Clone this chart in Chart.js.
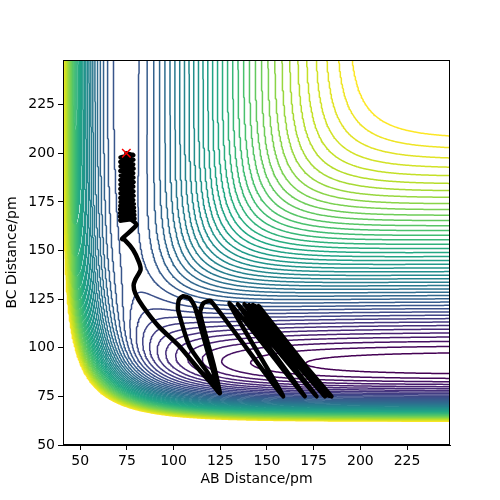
<!DOCTYPE html>
<html>
<head>
<meta charset="utf-8">
<script src="https://cdn.jsdelivr.net/npm/chart.js@4.4.0/dist/chart.umd.min.js"></script>
<style>
  html, body { margin: 0; padding: 0; background: #fff; }
</style>
</head>
<body>
<canvas id="pes" width="500" height="500"></canvas>
<script>
// axes
const xRange = [40.8, 248];
const yRange = [50, 248];
const xTicks = [50, 75, 100, 125, 150, 175, 200, 225];
const yTicks = [50, 75, 100, 125, 150, 175, 200, 225];

// LEPS surface, kJ/mol and pm (A-B = H-H, B-C = H-F, A-C = H-F)
const morseHH = { D: 458, re: 74.1, beta: 0.01942, k: 0.106 };
const morseHF = { D: 591, re: 91.7, beta: 0.02219, k: 0.167 };

// contour levels: top level and spacing
const levelTop = -86;
const levelStep = 11;

// trajectory
const startAB = [74.7];
const startBC = [200];

const coilAB = [74.7, 78.4, 71.6, 78.5, 71.5, 78.4, 71.6, 78.6, 71.5, 78.4, 71.7, 78.5, 71.5, 78.6, 71.6, 78.4,
  71.5, 78.5, 71.6, 78.6, 71.5, 78.4, 71.6, 78.7, 71.5, 78.8, 71.4, 78.9, 71.4, 79.0, 71.3, 79.1, 71.6];
const coilBC = [200, 199, 197.9, 196.7, 195.6, 194.4, 193.3, 192.1, 191, 189.8, 188.6, 187.5, 186.3, 185.2, 184, 182.9,
  181.7, 180.5, 179.4, 178.2, 177.1, 176, 175, 174, 173, 172.1, 171.2, 170.2, 169.3, 168.4, 167.5, 166.5, 165.5];

const pathAB = [71.6, 76.5, 80.1, 72.4, 73.8, 78.3, 81.5, 82.3, 79.5, 78.6, 79.5, 83.6, 92, 103.3, 113, 119.5, 124.7,
  118.5, 108.6, 102.4, 102.8, 105, 108.6, 111.3, 115.6, 120, 124.3, 124.8, 121.8, 117.3, 114.2, 116, 120,
  158.6, 130, 170.2, 134.5, 176.5, 138, 180.9, 140.6, 184.5, 142.5, 183.5, 144, 182, 145.5, 183, 143.5, 184];
const pathBC = [165.5, 166.3, 163.2, 156, 155.5, 150.4, 144, 140, 135, 132, 128, 121.2, 111, 100.6, 89.5, 82.5, 76.6,
  86.9, 100.6, 119.5, 124.6, 126.5, 125.5, 121.2, 107, 92, 78, 76.8, 90, 106, 118, 123, 124,
  75, 123, 75, 122.5, 75, 122.5, 75, 122, 75, 122, 75.5, 121.5, 75.5, 121.5, 75.3, 121.5, 75.3];

const viridisStops = ['#440154', '#482475', '#414487', '#355f8d', '#2a788e', '#21918c',
  '#22a884', '#44bf70', '#7ad151', '#bddf26', '#fde725'];

function hexToRgb(h) {
  return [parseInt(h.slice(1, 3), 16), parseInt(h.slice(3, 5), 16), parseInt(h.slice(5, 7), 16)];
}
function viridis(t) {
  const n = viridisStops.length - 1;
  const f = Math.min(Math.max(t, 0), 1) * n;
  const i = Math.min(Math.floor(f), n - 1);
  const u = f - i;
  const a = hexToRgb(viridisStops[i]), b = hexToRgb(viridisStops[i + 1]);
  return 'rgb(' + a.map((v, k) => Math.round(v + (b[k] - v) * u)).join(',') + ')';
}

function pairTerms(p, r) {
  const e1 = Math.exp(-p.beta * (r - p.re));
  const e2 = e1 * e1;
  const Q = p.D / 4 * ((3 + p.k) * e2 - (2 + 6 * p.k) * e1) / (1 + p.k);
  const J = p.D / 4 * ((1 + 3 * p.k) * e2 - (6 + 2 * p.k) * e1) / (1 + p.k);
  return [Q, J];
}
function leps(rab, rbc) {
  const [qa, ja] = pairTerms(morseHH, rab);
  const [qb, jb] = pairTerms(morseHF, rbc);
  const [qc, jc] = pairTerms(morseHF, rab + rbc);
  return qa + qb + qc - Math.sqrt(0.5 * ((ja - jb) ** 2 + (jb - jc) ** 2 + (jc - ja) ** 2));
}

// grid
const nx = 300, ny = 290;
const xs = [], ys = [];
for (let i = 0; i < nx; i++) xs.push(xRange[0] + (xRange[1] - xRange[0]) * i / (nx - 1));
for (let j = 0; j < ny; j++) ys.push(yRange[0] + (yRange[1] - yRange[0]) * j / (ny - 1));
const Z = new Float64Array(nx * ny);
let zmin = Infinity;
for (let j = 0; j < ny; j++) {
  for (let i = 0; i < nx; i++) {
    const v = leps(xs[i], ys[j]);
    Z[j * nx + i] = v;
    if (v < zmin) zmin = v;
  }
}

// marching squares, segments chained into polylines
function contourLevel(L) {
  const segK = [], segP = [];
  const byKey = new Map();
  const dx = xs[1] - xs[0], dy = ys[1] - ys[0];
  for (let j = 0; j < ny - 1; j++) {
    for (let i = 0; i < nx - 1; i++) {
      const a = Z[j * nx + i], b = Z[j * nx + i + 1], c = Z[(j + 1) * nx + i + 1], d = Z[(j + 1) * nx + i];
      const code = (a > L ? 1 : 0) | (b > L ? 2 : 0) | (c > L ? 4 : 0) | (d > L ? 8 : 0);
      if (code === 0 || code === 15) continue;
      const edge = e => {
        if (e === 0) return [(j * nx + i) * 2, { x: xs[i] + (L - a) / (b - a) * dx, y: ys[j] }];
        if (e === 1) return [(j * nx + i + 1) * 2 + 1, { x: xs[i + 1], y: ys[j] + (L - b) / (c - b) * dy }];
        if (e === 2) return [((j + 1) * nx + i) * 2, { x: xs[i] + (L - d) / (c - d) * dx, y: ys[j + 1] }];
        return [(j * nx + i) * 2 + 1, { x: xs[i], y: ys[j] + (L - a) / (d - a) * dy }];
      };
      const add = (e1, e2) => {
        const [k1, p1] = edge(e1), [k2, p2] = edge(e2);
        const s = segK.length / 2;
        segK.push(k1, k2); segP.push(p1, p2);
        if (!byKey.has(k1)) byKey.set(k1, []);
        if (!byKey.has(k2)) byKey.set(k2, []);
        byKey.get(k1).push(s); byKey.get(k2).push(s);
      };
      const cross = [];
      if ((a > L) !== (b > L)) cross.push(0);
      if ((b > L) !== (c > L)) cross.push(1);
      if ((d > L) !== (c > L)) cross.push(2);
      if ((a > L) !== (d > L)) cross.push(3);
      if (cross.length === 2) { add(cross[0], cross[1]); continue; }
      const m = (a + b + c + d) / 4;
      if (code === 5) { if (m > L) { add(0, 1); add(3, 2); } else { add(3, 0); add(1, 2); } }
      else { if (m > L) { add(3, 0); add(1, 2); } else { add(0, 1); add(3, 2); } }
    }
  }
  const nSeg = segK.length / 2;
  const used = new Uint8Array(nSeg);
  const out = [];
  const walk = (key, list) => {
    for (;;) {
      const cand = byKey.get(key);
      let next = -1;
      for (const t of cand) if (!used[t]) { next = t; break; }
      if (next < 0) return;
      used[next] = 1;
      if (segK[2 * next] === key) { list.push(segP[2 * next + 1]); key = segK[2 * next + 1]; }
      else { list.push(segP[2 * next]); key = segK[2 * next]; }
    }
  };
  for (let s = 0; s < nSeg; s++) {
    if (used[s]) continue;
    used[s] = 1;
    const fwd = [segP[2 * s], segP[2 * s + 1]];
    walk(segK[2 * s + 1], fwd);
    const back = [];
    walk(segK[2 * s], back);
    const line = back.reverse().concat(fwd);
    if (out.length) out.push({ x: NaN, y: NaN });
    for (const p of line) out.push(p);
  }
  return out;
}

const levels = [];
for (let v = levelTop; v > zmin; v -= levelStep) levels.unshift(v);

const contourSets = levels.map((L, idx) => ({
  data: contourLevel(L),
  showLine: true,
  borderColor: viridis(idx / (levels.length - 1)),
  borderWidth: 1.5,
  pointRadius: 0,
  borderCapStyle: 'round',
  borderJoinStyle: 'round'
}));

const toPts = (ax, bx) => ax.map((v, i) => ({ x: v, y: bx[i] }));

const boxPlugin = {
  id: 'box',
  afterDraw(chart) {
    const { ctx, chartArea: a } = chart;
    ctx.save();
    ctx.strokeStyle = '#000';
    ctx.lineWidth = 1;
    ctx.strokeRect(a.left + 0.5, a.top + 0.5, a.right - a.left - 1, a.bottom - a.top - 1);
    ctx.restore();
  }
};

const tickFont = { family: 'DejaVu Sans', size: 14 };

new Chart(document.getElementById('pes'), {
  type: 'scatter',
  data: {
    datasets: [
      { data: toPts(startAB, startBC), pointStyle: 'crossRot', pointRadius: 6, borderColor: '#ff0000',
        borderWidth: 1.5, showLine: false },
      { data: toPts(coilAB, coilBC), showLine: true, borderColor: '#000', borderWidth: 4.5, pointRadius: 0,
        tension: 0.4, borderJoinStyle: 'round', borderCapStyle: 'round' },
      { data: toPts(pathAB, pathBC), showLine: true, borderColor: '#000', borderWidth: 4.5, pointRadius: 0,
        tension: 0.2, borderJoinStyle: 'round', borderCapStyle: 'round' },
      ...contourSets
    ]
  },
  options: {
    responsive: false,
    animation: false,
    parsing: false,
    normalized: true,
    events: [],
    layout: { padding: { left: 0, right: 50, top: 60, bottom: 8 } },
    plugins: { legend: { display: false }, tooltip: { enabled: false } },
    scales: {
      x: {
        type: 'linear', min: xRange[0], max: xRange[1],
        afterBuildTicks: s => { s.ticks = xTicks.map(v => ({ value: v })); },
        afterFit: s => { s.height = 47; },
        grid: { drawOnChartArea: false, drawTicks: true, tickLength: 5, color: '#000' },
        border: { color: '#000', width: 1 },
        ticks: { color: '#000', font: tickFont, padding: 3, maxRotation: 0 },
        title: { display: true, text: 'AB Distance/pm', color: '#000', font: tickFont }
      },
      y: {
        type: 'linear', min: yRange[0], max: yRange[1],
        afterBuildTicks: s => { s.ticks = yTicks.map(v => ({ value: v })); },
        afterFit: s => { s.width = 63; },
        grid: { drawOnChartArea: false, drawTicks: true, tickLength: 5, color: '#000' },
        border: { color: '#000', width: 1 },
        ticks: { color: '#000', font: tickFont, padding: 3 },
        title: { display: true, text: 'BC Distance/pm', color: '#000', font: tickFont }
      }
    }
  },
  plugins: [boxPlugin]
});
</script>
</body>
</html>
